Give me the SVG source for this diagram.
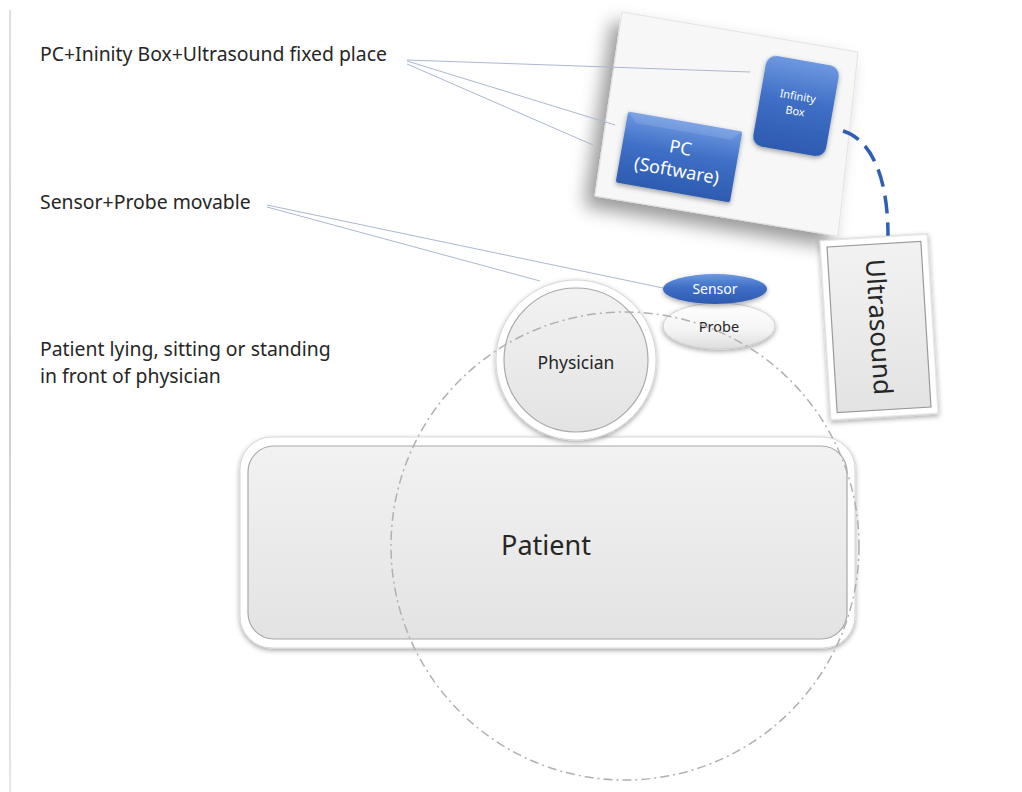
<svg xmlns="http://www.w3.org/2000/svg" width="1022" height="792" viewBox="0 0 1022 792">
<style>
.lbl{font-family:"Noto Sans","Open Sans","Liberation Sans",sans-serif;fill:#262626;font-size:19.4px;}
.wt{font-family:"Noto Sans","Open Sans","Liberation Sans",sans-serif;fill:#ffffff;text-anchor:middle;}
.ct{font-family:"Noto Sans","Open Sans","Liberation Sans",sans-serif;fill:#262626;text-anchor:middle;}
.call{stroke:#a9b8cf;stroke-width:1;fill:none;}
</style>
<defs>
<filter id="sh" x="-20%" y="-20%" width="140%" height="140%">
<feDropShadow dx="0" dy="2" stdDeviation="2.5" flood-color="#000" flood-opacity="0.35"/>
</filter>
<filter id="shp" x="-20%" y="-20%" width="140%" height="150%">
<feDropShadow dx="-10" dy="10" stdDeviation="9" flood-color="#000" flood-opacity="0.4"/>
</filter>
<linearGradient id="blue" x1="0" y1="0" x2="0" y2="1">
<stop offset="0" stop-color="#6d98e0"/>
<stop offset="0.45" stop-color="#3f6fc6"/>
<stop offset="1" stop-color="#2d5bb0"/>
</linearGradient>
<linearGradient id="grey" x1="0" y1="0" x2="0" y2="1">
<stop offset="0" stop-color="#f2f2f2"/>
<stop offset="1" stop-color="#e3e3e3"/>
</linearGradient>
<linearGradient id="probeg" x1="0" y1="0" x2="0" y2="1">
<stop offset="0" stop-color="#ffffff"/>
<stop offset="0.6" stop-color="#f4f4f4"/>
<stop offset="1" stop-color="#dcdcdc"/>
</linearGradient>
<linearGradient id="edge" x1="0" y1="0" x2="0" y2="1">
<stop offset="0" stop-color="#e0e0e0"/>
<stop offset="0.5" stop-color="#cfcfcf"/>
<stop offset="1" stop-color="#e6e6e6"/>
</linearGradient>
</defs>
<rect width="1022" height="792" fill="#ffffff"/>
<rect x="9" y="10" width="2" height="782" fill="url(#edge)"/>

<g id="labels">
<text class="lbl" x="40" y="61">PC+Ininity Box+Ultrasound fixed place</text>
<text class="lbl" x="40" y="209">Sensor+Probe movable</text>
<text class="lbl" x="40" y="355.5">Patient lying, sitting or standing</text>
<text class="lbl" x="40" y="382.5">in front of physician</text>
</g>

<g id="panel">
<polygon points="622,12 858,52 838,236 595,196" fill="#f7f7f7" stroke="#e2e2e2" stroke-width="1" filter="url(#shp)"/>
</g>

<g id="connectors">
<line class="call" x1="407" y1="60" x2="750" y2="72"/>
<line class="call" x1="407" y1="61" x2="615" y2="125"/>
<line class="call" x1="407" y1="64" x2="593" y2="145"/>
<line class="call" x1="267" y1="205" x2="663" y2="288"/>
<line class="call" x1="267" y1="207" x2="540" y2="281"/>
<path d="M843,131 C872,140 888,178 888,236" fill="none" stroke="#2f5fb5" stroke-width="3.5" stroke-dasharray="18 9"/>
</g>

<g id="pc">
<g transform="translate(679,157) rotate(10)">
<rect x="-58" y="-36" width="116" height="72" rx="2" fill="url(#blue)" filter="url(#sh)"/>
<polygon points="-58,-36 58,-36 48,-26 -48,-26" fill="#ffffff" opacity="0.12"/>
<text class="wt" x="0" y="-3" font-size="18">PC</text>
<text class="wt" x="0" y="20" font-size="18">(Software)</text>
</g>
</g>

<g id="infinity">
<g transform="translate(796,106) rotate(10)">
<rect x="-37" y="-46" width="74" height="92" rx="10" fill="url(#blue)" filter="url(#sh)"/>
<text class="wt" x="0" y="-6" font-size="11">Infinity</text>
<text class="wt" x="0" y="9" font-size="11">Box</text>
</g>
</g>

<g id="ultrasound">
<g transform="translate(879,327) rotate(-3.5)">
<rect x="-54" y="-90" width="108" height="180" fill="#ffffff" stroke="#d0d0d0" stroke-width="1" filter="url(#sh)"/>
<rect x="-47" y="-83" width="94" height="166" fill="url(#grey)" stroke="#9a9a9a" stroke-width="1.2"/>
<text class="ct" x="0" y="0" font-size="26" transform="rotate(90) translate(0,9)">Ultrasound</text>
</g>
</g>

<g id="patient">
<rect x="240" y="437" width="615" height="211" rx="32" fill="#ffffff" stroke="#d6d6d6" stroke-width="1" filter="url(#sh)"/>
<rect x="248" y="446" width="599" height="193" rx="26" fill="url(#grey)" stroke="#a8a8a8" stroke-width="1.2"/>
<text class="ct" x="546" y="555" font-size="27">Patient</text>
</g>

<g id="physician">
<circle cx="576" cy="360" r="80" fill="#ffffff" stroke="#d6d6d6" stroke-width="1" filter="url(#sh)"/>
<circle cx="576" cy="360" r="72" fill="url(#grey)" stroke="#a8a8a8" stroke-width="1.2"/>
<text class="ct" x="576" y="369" font-size="17.5">Physician</text>
</g>

<g id="probe">
<ellipse cx="719" cy="326" rx="56" ry="23" fill="url(#probeg)" stroke="#d0d0d0" stroke-width="1" filter="url(#sh)"/>
<text class="ct" x="719" y="332" font-size="14.5">Probe</text>
</g>

<g id="sensor">
<ellipse cx="715" cy="289" rx="52" ry="15" fill="url(#blue)" filter="url(#sh)"/>
<text class="wt" x="715" y="294" font-size="14">Sensor</text>
</g>

<g id="range">
<circle cx="625" cy="546" r="234" fill="none" stroke="#b0b0b0" stroke-width="1.5" stroke-dasharray="9 4 2 4"/>
</g>
</svg>
